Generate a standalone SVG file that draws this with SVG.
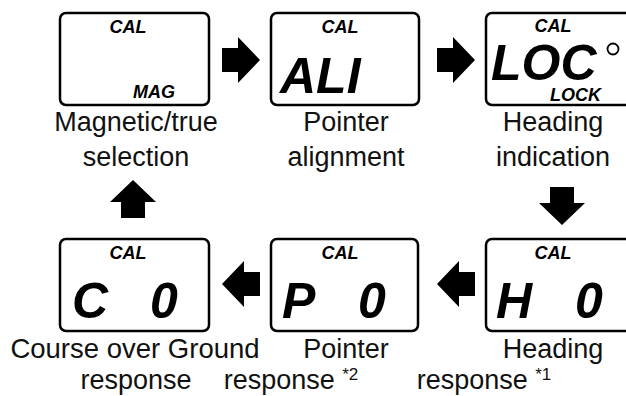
<svg xmlns="http://www.w3.org/2000/svg" width="626" height="396" viewBox="0 0 626 396">
<style>
.box{fill:#fff;stroke:#000;stroke-width:2.5}
.sm{font-family:"Liberation Sans",Arial,sans-serif;font-weight:bold;font-style:italic;font-size:18px;fill:#000}
.big{font-family:"Liberation Sans",Arial,sans-serif;font-weight:bold;font-style:italic;font-size:50px;fill:#000}
.lbl{font-family:"Liberation Sans",Arial,sans-serif;font-size:27px;fill:#111;text-anchor:middle}
.sup{font-size:17px}
.arr{fill:#000}
</style>
<defs>
<path id="arrow" d="M0,-12 H16 V-23 L38,0 L16,23 V12 H0 Z"/>
</defs>
<g id="connectors" class="arr">
<use href="#arrow" transform="translate(222,60)"/>
<use href="#arrow" transform="translate(437,60)"/>
<use href="#arrow" transform="translate(562,187) rotate(90)"/>
<use href="#arrow" transform="translate(475,284) rotate(180)"/>
<use href="#arrow" transform="translate(260,284) rotate(180)"/>
<use href="#arrow" transform="translate(133,218) rotate(-90)"/>
</g>
<g id="mag">
<rect class="box" x="60" y="13" width="149" height="92" rx="6"/>
<text class="sm" x="128" y="33" text-anchor="middle">CAL</text>
<text class="sm" x="133" y="98">MAG</text>
<text class="lbl" x="136" y="131">Magnetic/true</text>
<text class="lbl" x="136" y="166">selection</text>
</g>
<g id="ali">
<rect class="box" x="271" y="13" width="148" height="92" rx="6"/>
<text class="sm" x="340" y="33" text-anchor="middle">CAL</text>
<text class="big" x="280" y="93">ALI</text>
<text class="lbl" x="346" y="131">Pointer</text>
<text class="lbl" x="346" y="166">alignment</text>
</g>
<g id="loc">
<rect class="box" x="486" y="13" width="149" height="92" rx="6"/>
<text class="sm" x="553" y="32" text-anchor="middle">CAL</text>
<text class="big" x="491" y="80" style="font-size:50px">LOC</text>
<circle cx="613" cy="49" r="5.5" fill="#fff" stroke="#000" stroke-width="1.8"/>
<text class="sm" x="550" y="101">LOCK</text>
<text class="lbl" x="553" y="131">Heading</text>
<text class="lbl" x="553" y="166">indication</text>
</g>
<g id="cog">
<rect class="box" x="60" y="239" width="149" height="92" rx="6"/>
<text class="sm" x="128" y="259" text-anchor="middle">CAL</text>
<text class="big" x="72" y="318">C</text>
<text class="big" x="150" y="318">0</text>
<text class="lbl" x="135" y="358" style="font-size:27.5px">Course over Ground</text>
<text class="lbl" x="136" y="389">response</text>
</g>
<g id="pointer">
<rect class="box" x="271" y="239" width="147" height="92" rx="6"/>
<text class="sm" x="340" y="259" text-anchor="middle">CAL</text>
<text class="big" x="282" y="318">P</text>
<text class="big" x="358" y="318">0</text>
<text class="lbl" x="346" y="358">Pointer</text>
<text class="lbl" x="291" y="389" text-anchor="start">response <tspan class="sup" dy="-9">*2</tspan></text>
</g>
<g id="heading">
<rect class="box" x="486" y="239" width="149" height="92" rx="6"/>
<text class="sm" x="553" y="259" text-anchor="middle">CAL</text>
<text class="big" x="496" y="318">H</text>
<text class="big" x="575" y="318">0</text>
<text class="lbl" x="553" y="358">Heading</text>
<text class="lbl" x="484" y="389" text-anchor="start">response <tspan class="sup" dy="-9">*1</tspan></text>
</g>
</svg>
